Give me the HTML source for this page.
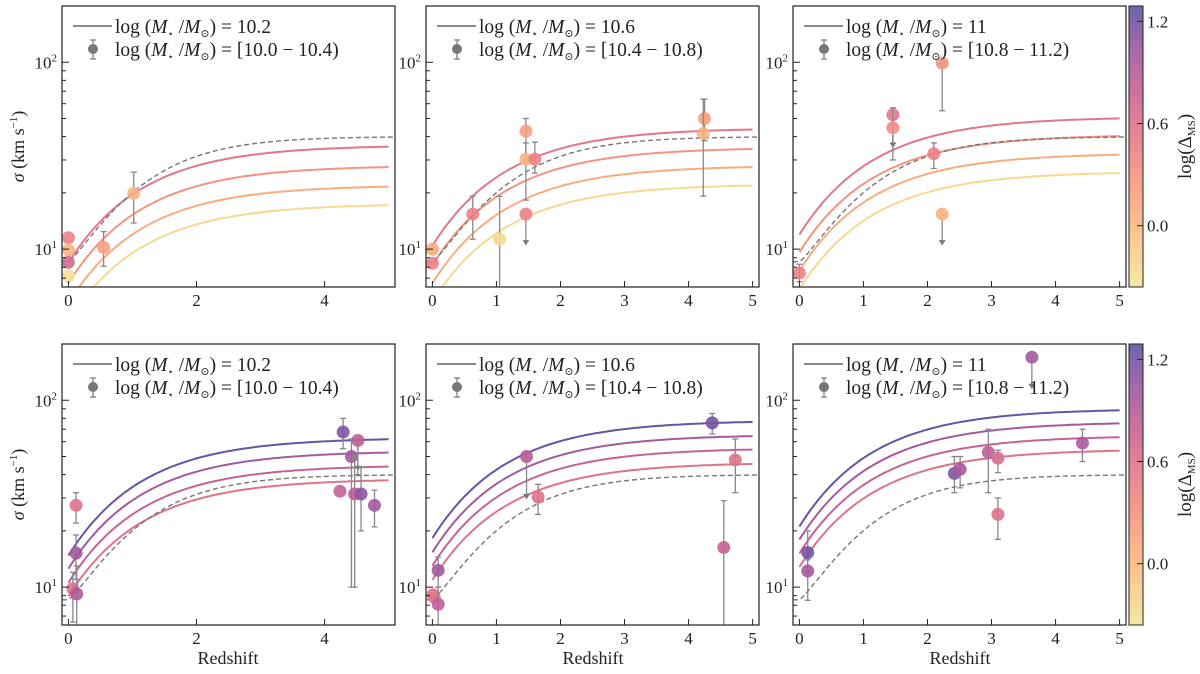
<!DOCTYPE html>
<html><head><meta charset="utf-8"><style>
html,body{margin:0;padding:0;background:#fff;}
svg{display:block;font-family:"Liberation Serif","DejaVu Serif",serif;}
</style></head><body>
<svg id="fig" width="1200" height="674" viewBox="0 0 1200 674" xmlns="http://www.w3.org/2000/svg"></svg>
<script>
// ---- data ----
const massLabels = ["10.2","10.6","11","10.2","10.6","11"];
const binLabels = ["[10.0 \u2212 10.4)","[10.4 \u2212 10.8)","[10.8 \u2212 11.2)","[10.0 \u2212 10.4)","[10.4 \u2212 10.8)","[10.8 \u2212 11.2)"];
const curveAsym = [[36,28,22,17.5],[44.5,35,28,22.3],[51,41,32.6,26],[63,53.5,45,38],[78,65.5,55.5,46.5],[90,76.6,64.6,54.7]];
const curveDelta = [[0.55,0.3,0.1,-0.25],[0.55,0.3,0.1,-0.25],[0.55,0.3,0.1,-0.25],[1.25,1.0,0.8,0.6],[1.25,1.0,0.8,0.6],[1.25,1.0,0.8,0.6]];
const dashedAsym = 40;
const ptZ = [
 [0,0,0,0,0.55,1.02],
 [0,0,0.63,1.05,1.46,1.46,1.6,1.46,4.25,4.23],
 [0,1.46,1.46,2.10,2.23,2.23],
 [0.12,0.12,0.07,0.13,4.29,4.52,4.42,4.24,4.47,4.57,4.78],
 [0.01,0.03,0.09,0.09,1.47,1.65,4.37,4.73,4.55],
 [0.13,0.13,3.63,2.42,2.51,2.95,3.10,3.10,4.42]];
const ptSigma = [
 [11.5,9.9,8.5,7.2,10.2,19.9],
 [10,8.4,15.4,11.3,42.8,30.3,30.3,15.4,50,41.6],
 [7.45,52.4,44.6,32.4,99,15.4],
 [27.4,15.2,9.8,9.2,67.6,61,50,32.6,31.5,31.5,27.4],
 [9.1,8.8,12.3,8.1,50,30.4,75.7,48,16.3],
 [15.3,12.2,170,40.6,42.7,52.7,49,24.5,59]];
const ptDelta = [
 [0.45,0.05,0.7,-0.3,0.2,0.05],
 [0.1,0.45,0.45,-0.25,0.2,0.05,0.45,0.45,0.2,0.05],
 [0.45,0.55,0.35,0.45,0.3,0.05],
 [0.6,1.0,0.6,0.95,1.15,0.85,1.0,0.8,0.85,1.1,1.0],
 [0.6,0.55,1.0,0.85,0.9,0.6,1.2,0.6,0.8],
 [1.2,1.0,1.0,1.15,1.0,0.85,0.65,0.6,0.95]];
const ptErrLo = [
 [null,null,null,null,8.1,13.8],
 [null,null,11.3,5,30,18.3,25.5,null,38,19.2],
 [6.7,46,30,27,55,null],
 [22,11,6.5,5,55,40,10,null,10,20,21],
 [null,null,10,5,null,24.5,66,32,5],
 [12,8.5,null,32,34,32,41,18,47]];
const ptErrHi = [
 [null,null,null,null,12.4,25.8],
 [null,null,19.2,19.2,50,37,37.4,null,63.5,63.5],
 [8.3,57,57,37,99,null],
 [32,19,12,13,80,62,62,null,50,44,33],
 [null,null,14.5,10,null,35.5,85,62,29],
 [20,14,null,50,50,70,54,30,70]];
const ptUpperTo = [
 [null,null,null,null,null,null],
 [null,null,null,null,null,null,null,10.5,null,null],
 [null,null,35,null,null,10.5],
 [null,null,null,null,null,42,null,null,null,null,null],
 [null,null,null,null,29.6,null,null,null,null],
 [null,null,115,null,null,null,null,null,null]];
const xTicksTop = [[0,2,4],[0,1,2,3,4,5],[0,1,2,3,4,5],[0,2,4],[0,1,2,3,4,5],[0,1,2,3,4,5]];
const cbTicks = [0.0,0.6,1.2];

// ---- colormap (sunset) ----
const cmap = ["#f3e79b","#fac484","#f8a07e","#eb7f86","#ce6693","#a059a0","#5c53a5"];
const cbMin=-0.36, cbMax=1.29;
function hex(h){return [1,3,5].map(i=>parseInt(h.substr(i,2),16));}
function col(v){let t=(v-cbMin)/(cbMax-cbMin);t=Math.max(0,Math.min(1,t));const f=t*(cmap.length-1);const i=Math.min(cmap.length-2,Math.floor(f));const a=hex(cmap[i]),b=hex(cmap[i+1]),u=f-i;
 return "rgb("+a.map((x,k)=>Math.round(x+(b[k]-x)*u)).join(",")+")";}

const NS="http://www.w3.org/2000/svg";
const svg=document.getElementById("fig");
function el(tag,attrs,parent){const e=document.createElementNS(NS,tag);for(const k in attrs)e.setAttribute(k,attrs[k]);(parent||svg).appendChild(e);return e;}

const lefts=[62,426,793], tops=[6,344], W=333, H=281;
const ylo=Math.log10(6.27), yhi=Math.log10(200);
function model(z,A){return Math.pow(10,Math.log10(A)-0.63*Math.exp(-z/1.15));}
function dashed(z){return Math.pow(10,Math.log10(dashedAsym)-0.67*Math.exp(-Math.pow(Math.max(z,0)/1.2,1.2)));}

for(let p=0;p<6;p++){
 const L=lefts[p%3], T=tops[Math.floor(p/3)];
 const xs=z=>L+(z+0.1)/5.2*W;
 const ys=s=>T+H-(Math.log10(s)-ylo)/(yhi-ylo)*H;
 const g=el("g",{});
 
 
 const cid="clip"+p;
 const cp=el("clipPath",{id:cid},g); el("rect",{x:L,y:T,width:W,height:H},cp);
 const plot=el("g",{"clip-path":"url(#"+cid+")"},g);
 curveAsym[p].forEach((A,i)=>{
  let d="";for(let k=0;k<=100;k++){const z=k*0.05;d+=(k?"L":"M")+xs(z).toFixed(1)+","+ys(model(z,A)).toFixed(1);}
  const c=el("path",{d:d,fill:"none",stroke:col(curveDelta[p][i]),"stroke-width":2},plot);
  
  
 });
 let dd="";for(let k=0;k<=104;k++){const z=-0.1+k*0.05;dd+=(k?"L":"M")+xs(z).toFixed(1)+","+ys(dashed(z)).toFixed(1);}
 const dl=el("path",{d:dd,fill:"none",stroke:"#777","stroke-width":1.4,"stroke-dasharray":"5,3"},plot);
 
 
 ptZ[p].forEach((z,i)=>{
  const x=xs(z), y=ys(ptSigma[p][i]);
  const lo=ptErrLo[p][i], hi=ptErrHi[p][i], ul=ptUpperTo[p][i];
  if(lo!==null&&hi!==null){
   el("line",{x1:x,x2:x,y1:ys(lo),y2:ys(hi),stroke:"#888","stroke-width":1.3},plot);
   el("line",{x1:x-3,x2:x+3,y1:ys(lo),y2:ys(lo),stroke:"#888","stroke-width":1.3},plot);
   el("line",{x1:x-3,x2:x+3,y1:ys(hi),y2:ys(hi),stroke:"#888","stroke-width":1.3},plot);
  }
  if(ul!==null){
   const ty=ys(ul);
   el("line",{x1:x,x2:x,y1:y,y2:ty,stroke:"#888","stroke-width":1.3},plot);
   el("path",{d:"M"+(x-3.5)+","+(ty-5)+"L"+(x+3.5)+","+(ty-5)+"L"+x+","+ty+"Z",fill:"#777"},plot);
  }
  const c=el("circle",{cx:x,cy:y,r:6.5,fill:col(ptDelta[p][i]),"fill-opacity":0.9},plot);
  
  
 });
 el("rect",{x:L,y:T,width:W,height:H,fill:"none",stroke:"#222","stroke-width":1.2},g);
 xTicksTop[p].forEach(v=>{const x=xs(v);
  el("line",{x1:x,x2:x,y1:T+H,y2:T+H-6,stroke:"#222","stroke-width":1},g);
  const t=el("text",{x:x,y:T+H+19,"text-anchor":"middle","font-size":17,fill:"#222"},g);t.textContent=v;
  
  
 });
 for(let dec=0;dec<=2;dec++){for(let m=1;m<=9;m++){const v=m*Math.pow(10,dec);if(v<6.27||v>200)continue;const y=ys(v);
  el("line",{x1:L,x2:L+(m===1?7:4),y1:y,y2:y,stroke:"#222","stroke-width":1},g);
  if(m===1){const t=el("text",{x:L-5,y:y+6,"text-anchor":"end","font-size":17,fill:"#222"},g);
   t.innerHTML='10<tspan font-size="11" dy="-7">'+dec+'</tspan>';
   
   }
 }}
 const lg=el("g",{},g);
 
 
 el("line",{x1:L+11,x2:L+50,y1:T+20,y2:T+20,stroke:"#666","stroke-width":1.6},lg);
 el("line",{x1:L+31,x2:L+31,y1:T+34,y2:T+53,stroke:"#777","stroke-width":1.2},lg);
 el("line",{x1:L+28,x2:L+34,y1:T+34,y2:T+34,stroke:"#777","stroke-width":1.2},lg);
 el("line",{x1:L+28,x2:L+34,y1:T+53,y2:T+53,stroke:"#777","stroke-width":1.2},lg);
 el("circle",{cx:L+31,cy:T+43,r:5,fill:"#777"},lg);
 const lbl=(y,tail)=>{const t=el("text",{x:L+53,y:y,"font-size":19.5,fill:"#222"},lg);
  t.innerHTML='log (<tspan font-style="italic">M</tspan><tspan font-size="10" dy="4">\u22c6</tspan><tspan dy="-4"> /</tspan><tspan font-style="italic">M</tspan><tspan font-size="11" dy="4">\u2299</tspan><tspan dy="-4">) = '+tail+'</tspan>';return t;};
 const t1=lbl(T+27,massLabels[p]);  
 const t2=lbl(T+50,binLabels[p]);  
}

const defs=el("defs",{});
const gr=el("linearGradient",{id:"cbg",x1:0,y1:1,x2:0,y2:0},defs);
cmap.forEach((c,i)=>el("stop",{offset:(i/(cmap.length-1)),"stop-color":c,"stop-opacity":0.9},gr));
tops.forEach((T,r)=>{
 const g=el("g",{});
 
 
 el("rect",{x:1129,y:T,width:14,height:H,fill:"url(#cbg)",stroke:"#222","stroke-width":1},g);
 cbTicks.forEach(v=>{const y=T+H-(v-cbMin)/(cbMax-cbMin)*H;
  el("line",{x1:1137,x2:1143,y1:y,y2:y,stroke:"#222","stroke-width":1},g);
  const t=el("text",{x:1147,y:y+6,"font-size":17,fill:"#222"},g);t.textContent=v.toFixed(1);
  
  });
 const lt=el("text",{x:1191,y:T+H/2,"font-size":19,fill:"#222","text-anchor":"middle",transform:"rotate(-90 1191 "+(T+H/2)+")"},g);
 lt.innerHTML='log(\u0394<tspan font-size="11" dy="4">MS</tspan><tspan dy="-4">)</tspan>';
 
 
 const yl=el("text",{x:24,y:T+H/2,"font-size":18,fill:"#222","text-anchor":"middle",transform:"rotate(-90 24 "+(T+H/2)+")"},svg);
 yl.innerHTML='<tspan font-style="italic">\u03c3</tspan> (km s<tspan font-size="11" dy="-7">\u22121</tspan><tspan dy="7">)</tspan>';
 
 
});
[228,593,960].forEach(cx=>{const t=el("text",{x:cx,y:664,"font-size":18,fill:"#222","text-anchor":"middle"});t.textContent="Redshift";
 
 });
</script>
</body></html>
